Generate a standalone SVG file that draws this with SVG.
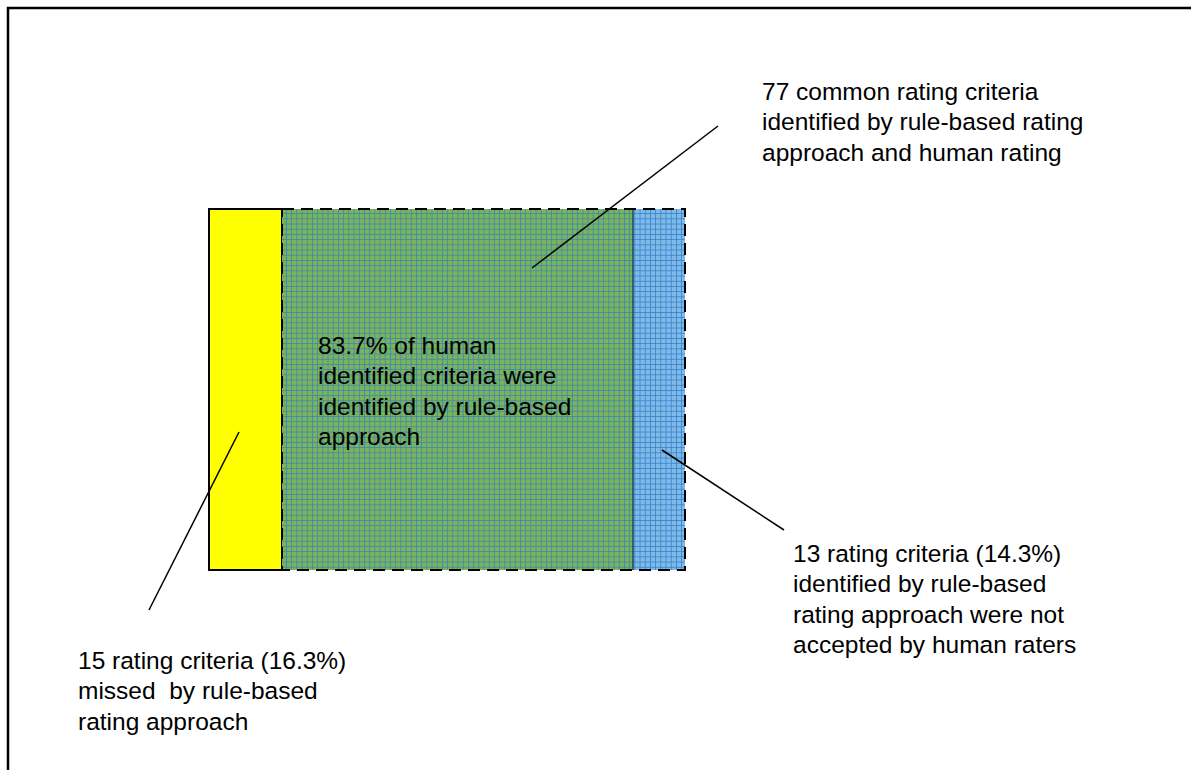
<svg xmlns="http://www.w3.org/2000/svg" width="1191" height="770" viewBox="0 0 1191 770">
  <style>
    .lbl { font-family: "Liberation Sans", Arial, sans-serif; font-size: 24.5px; fill: #000; white-space: pre; }
    .lead { stroke: #000; stroke-width: 1.5; fill: none; }
  </style>
  <defs>
    <pattern id="gridGreen" width="5.2" height="5.2" patternUnits="userSpaceOnUse">
      <rect width="5.2" height="5.2" fill="#7cb356"/>
      <path d="M0 0.4H5.2M0.4 0V5.2" stroke="#3584c0" stroke-width="0.8"/>
    </pattern>
    <pattern id="gridBlue" width="5.2" height="5.2" patternUnits="userSpaceOnUse">
      <rect width="5.2" height="5.2" fill="#80b9e6"/>
      <path d="M0 0.4H5.2M0.4 0V5.2" stroke="#2f80cc" stroke-width="0.8"/>
    </pattern>
  </defs>
  <rect width="1191" height="770" fill="#fff"/>
  <!-- frame -->
  <path d="M8 770V8H1191" fill="none" stroke="#000" stroke-width="2.5"/>

  <g id="missed">
    <rect x="209" y="209" width="73" height="361" fill="#ffff00" stroke="#000" stroke-width="2"/>
  </g>
  <g id="common">
    <rect x="282" y="209" width="351" height="361" fill="url(#gridGreen)"/>
    <text class="lbl" x="318" y="354">83.7% of human</text>
    <text class="lbl" x="318" y="384">identified criteria were</text>
    <text class="lbl" x="318" y="415">identified by rule-based</text>
    <text class="lbl" x="318" y="445">approach</text>
  </g>
  <g id="rejected">
    <rect x="633" y="209" width="52" height="361" fill="url(#gridBlue)"/>
    <line x1="633" y1="209" x2="633" y2="570" stroke="#1f4a5a" stroke-width="1.5"/>
  </g>
  <!-- dashed outline of the rule-based set -->
  <rect id="ruleBased" x="282" y="209" width="403" height="361" fill="none" stroke="#000" stroke-width="2" stroke-dasharray="12,7"/>

  <g id="connectors">
    <line class="lead" x1="532" y1="268" x2="718" y2="126"/>
    <line class="lead" x1="662" y1="450" x2="784" y2="530"/>
    <line class="lead" x1="239" y1="432" x2="149" y2="610"/>
  </g>

  <g id="label-common">
    <text class="lbl" x="762" y="100">77 common rating criteria</text>
    <text class="lbl" x="762" y="130">identified by rule-based rating</text>
    <text class="lbl" x="762" y="161">approach and human rating</text>
  </g>
  <g id="label-rejected">
    <text class="lbl" x="793" y="562">13 rating criteria (14.3%)</text>
    <text class="lbl" x="793" y="592">identified by rule-based</text>
    <text class="lbl" x="793" y="623">rating approach were not</text>
    <text class="lbl" x="793" y="653">accepted by human raters</text>
  </g>
  <g id="label-missed">
    <text class="lbl" x="78" y="669">15 rating criteria (16.3%)</text>
    <text class="lbl" x="78" y="699">missed  by rule-based</text>
    <text class="lbl" x="78" y="730">rating approach</text>
  </g>
</svg>
